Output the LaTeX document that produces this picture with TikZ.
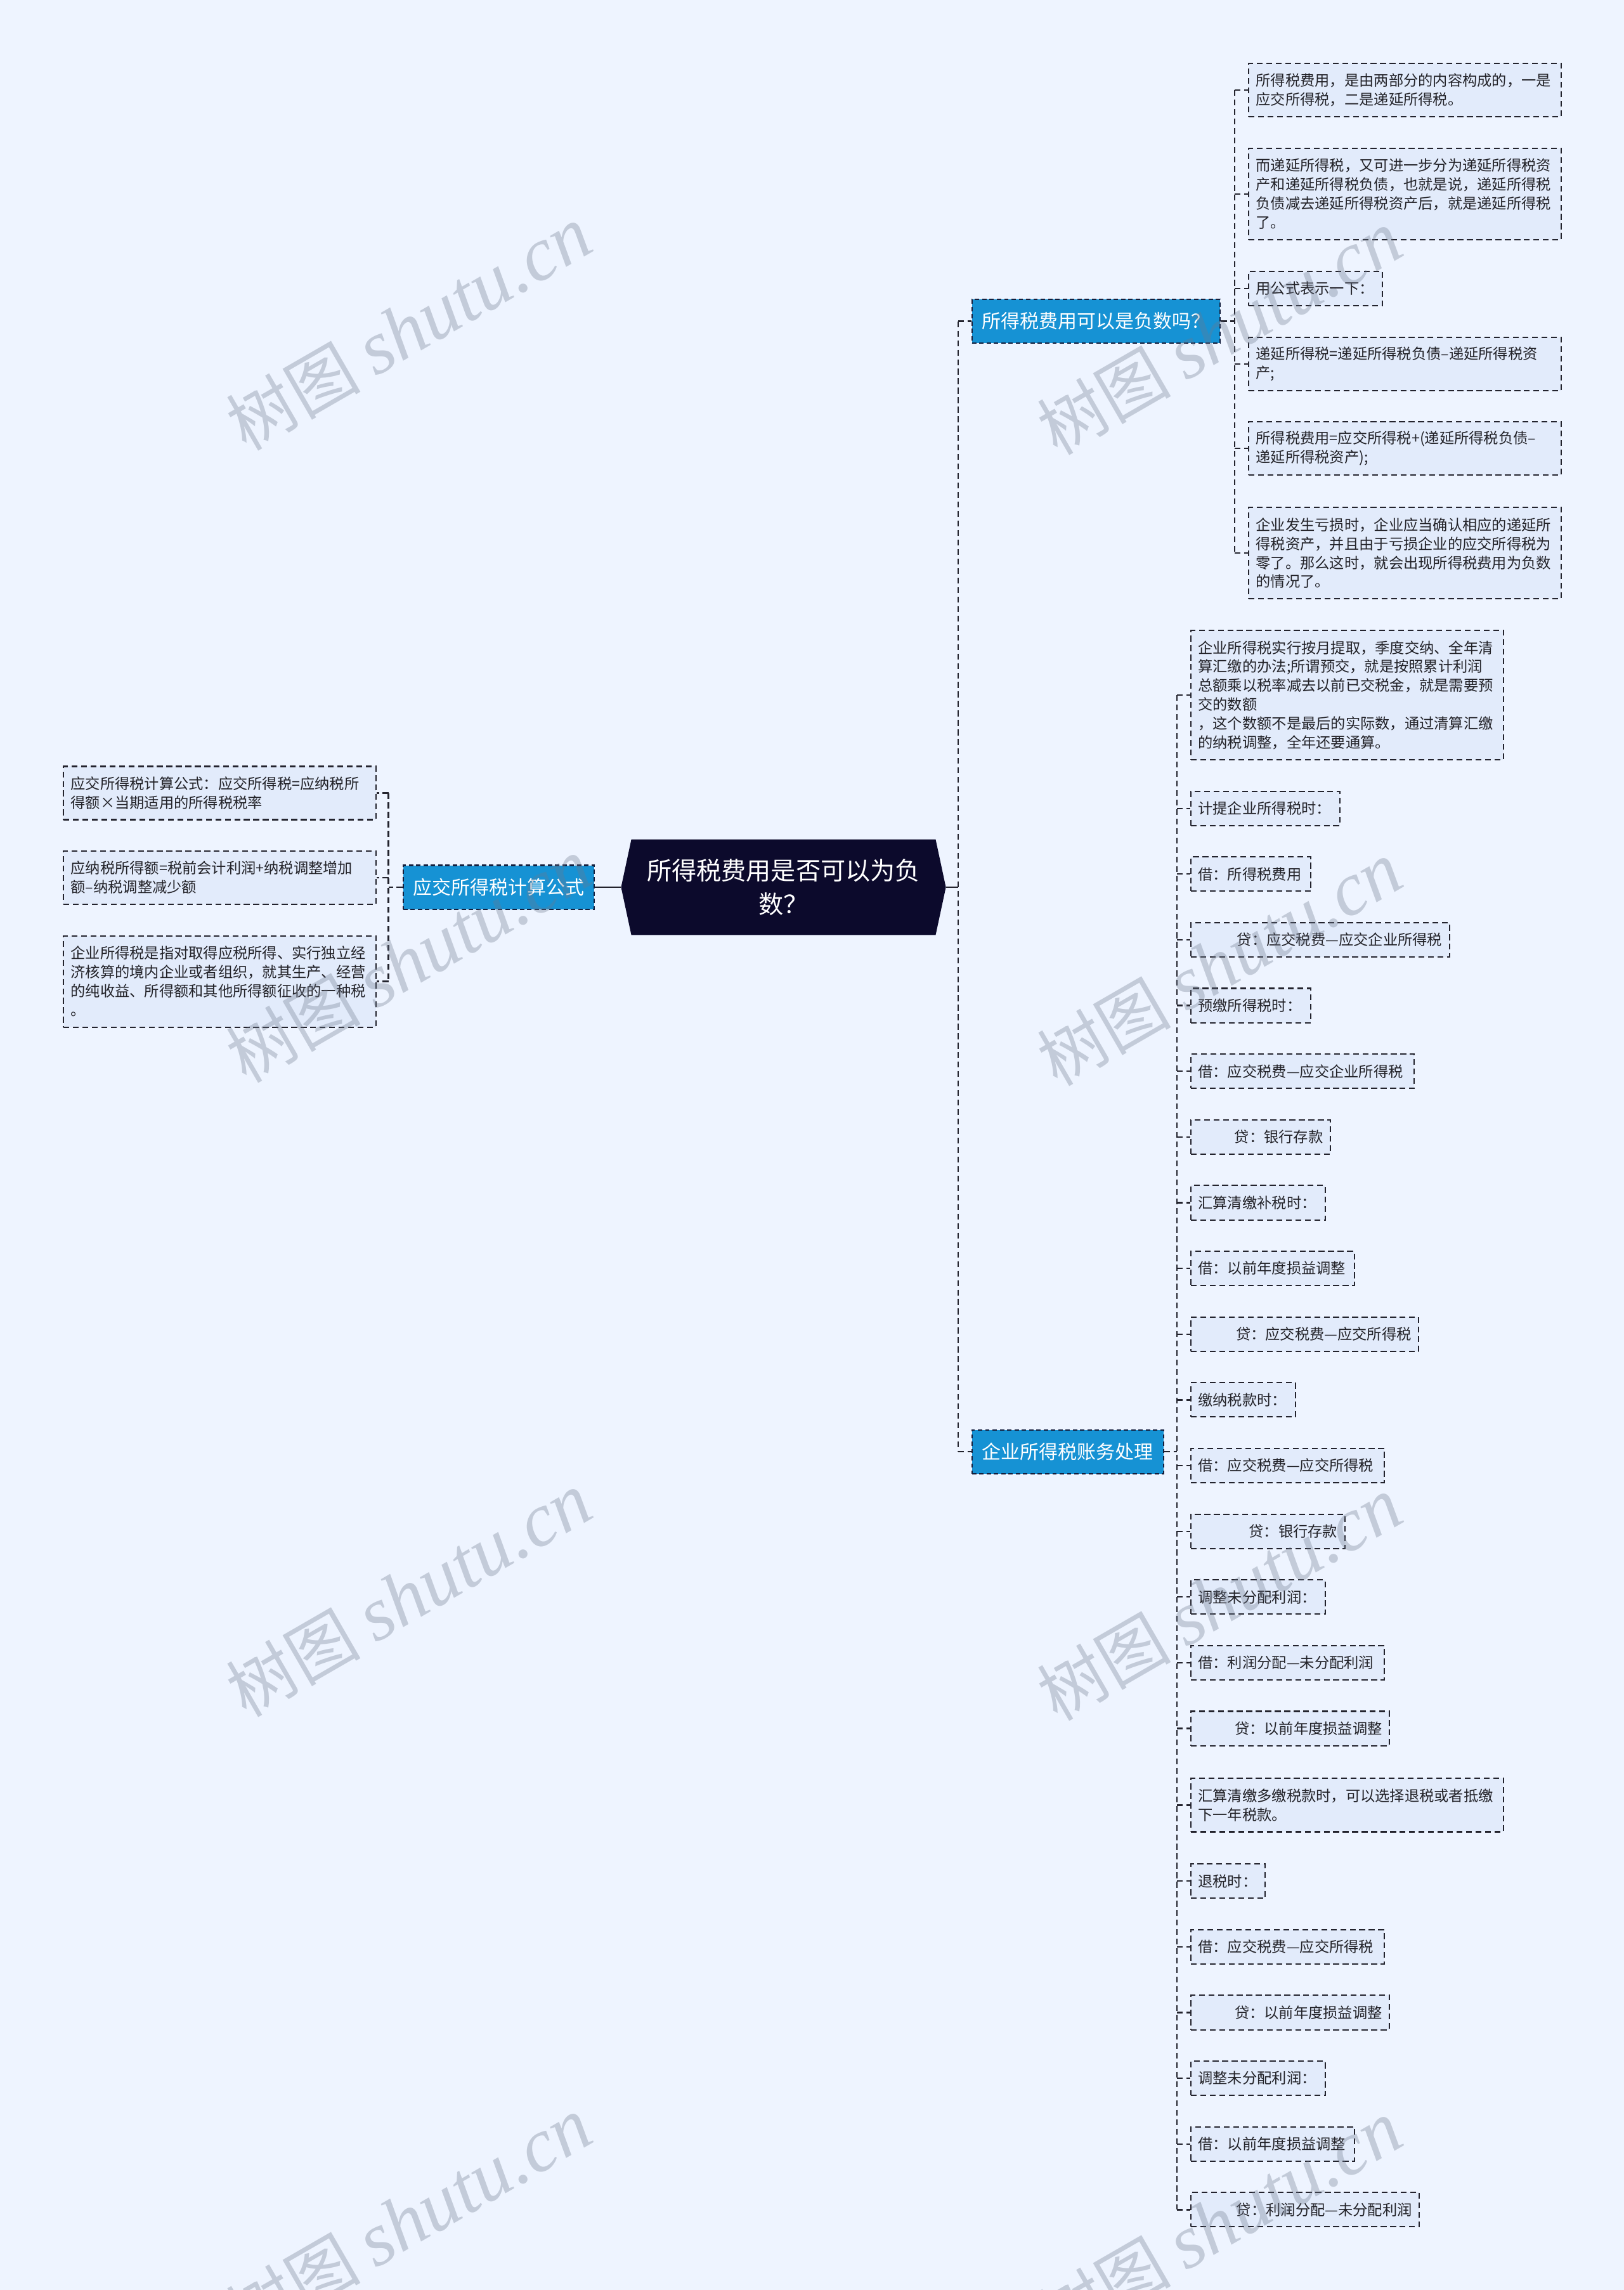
\documentclass[tikz,border=0pt]{standalone}
\usepackage{fontspec}
\newfontfamily\cjk{Noto Sans CJK SC}
\newfontfamily\wmserif{Liberation Serif}
\usetikzlibrary{calc}
\pgfdeclarelayer{bg}
\pgfsetlayers{bg,main}
\definecolor{bgc}{RGB}{238,244,255}
\definecolor{leaffill}{RGB}{226,235,251}
\definecolor{hubfill}{RGB}{12,10,44}
\definecolor{brfill}{RGB}{22,146,212}
\definecolor{navyc}{RGB}{20,30,60}
\definecolor{linec}{RGB}{35,35,45}
\definecolor{leaftext}{RGB}{34,34,40}
\definecolor{wmc}{RGB}{110,120,140}
\tikzset{
  leaf/.style={draw=linec, dash pattern=on 4pt off 2.5pt, line width=0.9pt, fill=leaffill,
    anchor=west, inner xsep=5pt, inner ysep=0pt, text=leaftext,
    font=\cjk\fontsize{10.1}{13}\selectfont, align=left, minimum height=23.5pt},
  leafr/.style={leaf, align=right},
  two/.style={minimum height=36.5pt},
  four/.style={minimum height=62.5pt},
  six/.style={minimum height=88.5pt},
  br/.style={fill=brfill, draw=navyc, dash pattern=on 3pt off 2pt, line width=0.9pt,
    text=white, font=\cjk\fontsize{13}{16}\selectfont, inner sep=0pt, minimum height=30pt},
  conn/.style={draw=linec, line width=1pt, dash pattern=on 4pt off 2.5pt},
  solidc/.style={draw=linec, line width=1.1pt},
  wm/.style={text=wmc, opacity=0.33, rotate=30, inner sep=0pt}
}
\begin{document}
\begin{tikzpicture}[x=1pt,y=-1pt]
\begin{pgfonlayer}{bg}
\fill[bgc] (0,0) rectangle (1112,1568);
\end{pgfonlayer}
\useasboundingbox (0,0) rectangle (1112,1568);

% central node
\node[inner sep=0pt, minimum width=222pt, minimum height=65pt, text=white, align=center,
  font=\cjk\fontsize{17}{23}\selectfont] (hub) at (536.5,607.5) {所得税费用是否可以为负\\数？};
\begin{pgfonlayer}{bg}
\fill[hubfill] ([xshift=7pt]hub.north west) -- ([xshift=-7pt]hub.north east) -- (hub.east)
  -- ([xshift=-7pt]hub.south east) -- ([xshift=7pt]hub.south west) -- (hub.west) -- cycle;
\end{pgfonlayer}

% branches
\node[br, minimum width=131pt] (bl) at (341.5,607.5) {应交所得税计算公式};
\node[br, minimum width=170pt] (bu) at (750.6,220) {所得税费用可以是负数吗？};
\node[br, minimum width=131pt] (bd) at (731.1,994) {企业所得税账务处理};

% junction columns
\coordinate (jl) at (266,0);
\coordinate (jr) at (656,0);
\coordinate (ju) at (845.5,0);
\coordinate (jd) at (806,0);

% left leaves
\node[leaf, two, text width=204pt] (a1) at (43,543) {应交所得税计算公式：应交所得税=应纳税所\\得额×当期适用的所得税税率};
\node[leaf, two, text width=204pt] (a2) at (43,601) {应纳税所得额=税前会计利润+纳税调整增加\\额–纳税调整减少额};
\node[leaf, four, text width=204pt] (a3) at (43,672) {企业所得税是指对取得应税所得、实行独立经\\济核算的境内企业或者组织，就其生产、经营\\的纯收益、所得额和其他所得额征收的一种税\\。};

% upper right leaves
\node[leaf, two, text width=204pt] (u1) at (854.6,61.7) {所得税费用，是由两部分的内容构成的，一是\\应交所得税，二是递延所得税。};
\node[leaf, four, text width=204pt] (u2) at (854.6,132.8) {而递延所得税，又可进一步分为递延所得税资\\产和递延所得税负债，也就是说，递延所得税\\负债减去递延所得税资产后，就是递延所得税\\了。};
\node[leaf, text width=81.4pt] (u3) at (854.6,197.5) {用公式表示一下：};
\node[leaf, two, text width=204pt] (u4) at (854.6,249.3) {递延所得税=递延所得税负债–递延所得税资\\产;};
\node[leaf, two, text width=204pt] (u5) at (854.6,307) {所得税费用=应交所得税+(递延所得税负债–\\递延所得税资产);};
\node[leaf, four, text width=204pt] (u6) at (854.6,378.7) {企业发生亏损时，企业应当确认相应的递延所\\得税资产，并且由于亏损企业的应交所得税为\\零了。那么这时，就会出现所得税费用为负数\\的情况了。};

% lower right leaves
\node[leaf, six, text width=204pt] (d1) at (815,476) {企业所得税实行按月提取，季度交纳、全年清\\算汇缴的办法;所谓预交，就是按照累计利润\\总额乘以税率减去以前已交税金，就是需要预\\交的数额\\，这个数额不是最后的实际数，通过清算汇缴\\的纳税调整，全年还要通算。};
\node[leaf, text width=92pt] (d2) at (815,553.5) {计提企业所得税时：};
\node[leaf, text width=72pt] (d3) at (815,598.5) {借：所得税费用};
\node[leafr, text width=167pt] (d4) at (815,643.5) {贷：应交税费—应交企业所得税};
\node[leaf, text width=72pt] (d5) at (815,688.5) {预缴所得税时：};
\node[leaf, text width=143pt] (d6) at (815,733.5) {借：应交税费—应交企业所得税};
\node[leafr, text width=85.5pt] (d7) at (815,778.5) {贷：银行存款};
\node[leaf, text width=82pt] (d8) at (815,823.5) {汇算清缴补税时：};
\node[leaf, text width=102pt] (d9) at (815,868.5) {借：以前年度损益调整};
\node[leafr, text width=146pt] (d10) at (815,913.5) {贷：应交税费—应交所得税};
\node[leaf, text width=61.5pt] (d11) at (815,958.5) {缴纳税款时：};
\node[leaf, text width=122.4pt] (d12) at (815,1003.5) {借：应交税费—应交所得税};
\node[leafr, text width=95.4pt] (d13) at (815,1048.5) {贷：银行存款};
\node[leaf, text width=82pt] (d14) at (815,1093.5) {调整未分配利润：};
\node[leaf, text width=122.4pt] (d15) at (815,1138.5) {借：利润分配—未分配利润};
\node[leafr, text width=126pt] (d16) at (815,1183.5) {贷：以前年度损益调整};
\node[leaf, two, text width=204pt] (d17) at (815,1236) {汇算清缴多缴税款时，可以选择退税或者抵缴\\下一年税款。};
\node[leaf, text width=41pt] (d18) at (815,1288) {退税时：};
\node[leaf, text width=122.4pt] (d19) at (815,1333) {借：应交税费—应交所得税};
\node[leafr, text width=126pt] (d20) at (815,1378) {贷：以前年度损益调整};
\node[leaf, text width=82pt] (d21) at (815,1423) {调整未分配利润：};
\node[leaf, text width=102pt] (d22) at (815,1468) {借：以前年度损益调整};
\node[leafr, text width=146.4pt] (d23) at (815,1513) {贷：利润分配—未分配利润};

% connectors: left
\draw[solidc] (hub.west) -- (bl.east);
\draw[conn] (bl.west) -- (jl |- bl.west);
\draw[conn] (jl |- a1.east) -- (jl |- a3.east);
\foreach \n in {a1,a2,a3} \draw[conn] (jl |- \n.east) -- (\n.east);

% connectors: right trunk
\draw[solidc] (hub.east) -- (jr |- hub.east);
\draw[conn] (jr |- bu.west) -- (jr |- bd.west);
\draw[conn] (jr |- bu.west) -- (bu.west);
\draw[conn] (jr |- bd.west) -- (bd.west);

% upper branch
\draw[conn] (bu.east) -- (ju |- bu.east);
\draw[conn] (ju |- u1.west) -- (ju |- u6.west);
\foreach \n in {u1,u2,u3,u4,u5,u6} \draw[conn] (ju |- \n.west) -- (\n.west);

% lower branch
\draw[conn] (bd.east) -- (jd |- bd.east);
\draw[conn] (jd |- d1.west) -- (jd |- d23.west);
\foreach \n in {1,...,23} \draw[conn] (jd |- d\n.west) -- (d\n.west);

% watermarks
\foreach \wx/\wy [count=\i] in {280/225, 835/228, 280/658, 835/660, 280/1092, 835/1095, 280/1520, 835/1522}
  \node[wm] (wm\i) at (\wx,\wy) {{\cjk\fontsize{46}{50}\selectfont 树图}\hspace{10pt}{\wmserif\itshape\fontsize{52}{56}\selectfont shutu.cn}};
\end{tikzpicture}
\end{document}
